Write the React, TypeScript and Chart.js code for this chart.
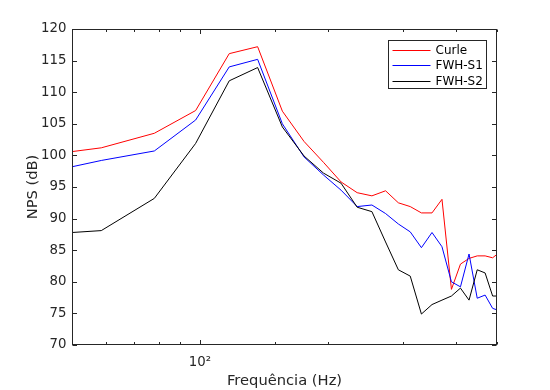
import React, { useEffect, useRef } from 'react';
import { Chart, registerables } from 'chart.js';

Chart.register(...registerables);

// Frequency bins (Hz)
const freqs = [50, 58.6, 78.1, 97.7, 117.2, 136.7, 156.3, 175.8, 195.3, 214.8, 234.4, 253.9, 273.4, 293.0, 312.5, 332.0, 351.6, 371.1, 390.6, 410.2, 429.7, 449.2, 468.8, 488.3, 507.8];

// NPS (dB)
const curle = [100.6, 101.2, 103.5, 107.1, 116.1, 117.2, 107.0, 102.2, 98.9, 95.8, 94.1, 93.6, 94.4, 92.5, 91.9, 90.9, 90.9, 93.05, 78.8, 82.8, 83.7, 84.1, 84.1, 83.8, 84.7];
const fwhS1 = [98.2, 99.2, 100.7, 105.6, 114.0, 115.2, 105.0, 99.75, 96.9, 94.5, 91.9, 92.15, 90.8, 89.15, 87.9, 85.4, 87.8, 85.55, 80.0, 79.2, 84.4, 77.4, 77.9, 75.8, 75.4];
const fwhS2 = [87.8, 88.1, 93.2, 101.9, 111.8, 113.9, 104.5, 99.9, 97.2, 95.6, 91.8, 91.1, 86.3, 81.9, 80.9, 74.9, 76.4, 77.1, 77.75, 79.0, 77.1, 81.9, 81.4, 77.75, 77.75];

const seriesLabels = ['Curle', 'FWH-S1', 'FWH-S2'];
const seriesColors = ['#ff0000', '#0000ff', '#000000'];

const xMin = 50;
const xMax = 500;
const yMin = 70;
const yMax = 120;
const yStep = 5;

const xTitle = 'Frequência (Hz)';
const yTitle = 'NPS (dB)';

const AXIS = '#262626';
const FONT = "'DejaVu Sans', sans-serif";

const framePlugin = {
  id: 'matlabFrame',
  afterDatasetsDraw(chart: any) {
    const { ctx, chartArea: a, scales } = chart;
    const L = Math.round(a.left) + 0.5;
    const R = Math.round(a.right) - 0.5;
    const T = Math.round(a.top) + 0.5;
    const B = Math.round(a.bottom) - 0.5;
    ctx.save();
    ctx.strokeStyle = AXIS;
    ctx.lineWidth = 1;
    ctx.beginPath();
    // y ticks (inward, both sides)
    for (const t of scales.y.ticks) {
      const y = Math.round(scales.y.getPixelForValue(t.value)) + 0.5;
      ctx.moveTo(L, y); ctx.lineTo(L + 4.5, y);
      ctx.moveTo(R, y); ctx.lineTo(R - 4.5, y);
    }
    // x ticks (inward, top and bottom)
    for (const t of scales.x.ticks) {
      const lg = Math.log10(t.value);
      const major = Math.abs(lg - Math.round(lg)) < 1e-9;
      const len = major ? 4.5 : 2.5;
      const x = Math.round(scales.x.getPixelForValue(t.value)) + 0.5;
      ctx.moveTo(x, B); ctx.lineTo(x, B - len);
      ctx.moveTo(x, T); ctx.lineTo(x, T + len);
    }
    ctx.stroke();
    ctx.strokeRect(L, T, R - L, B - T);

    // legend box (top-right inside axes)
    const ds = chart.data.datasets;
    const boxR = Math.round(a.right) - 10.5;
    const boxT = Math.round(a.top) + 11.5;
    const boxW = 98;
    const rowH = 15.6;
    const boxH = 48;
    const boxL = boxR - boxW;
    ctx.fillStyle = '#ffffff';
    ctx.fillRect(boxL, boxT, boxW, boxH);
    ctx.strokeRect(boxL, boxT, boxW, boxH);
    ctx.font = `12px ${FONT}`;
    ctx.textBaseline = 'middle';
    ctx.textAlign = 'left';
    ds.forEach((d: any, i: number) => {
      const y = Math.round(boxT + 9 + i * rowH) + 0.5;
      ctx.strokeStyle = d.borderColor;
      ctx.beginPath();
      ctx.moveTo(boxL + 4, y);
      ctx.lineTo(boxL + 42, y);
      ctx.stroke();
      ctx.fillStyle = '#000000';
      ctx.fillText(d.label, boxL + 47, y + 0.5);
    });
    ctx.restore();
  },
};

export default function App() {
  const ref = useRef<HTMLCanvasElement | null>(null);

  useEffect(() => {
    if (!ref.current) return;
    const series = [curle, fwhS1, fwhS2];
    const chart = new Chart(ref.current, {
      type: 'line',
      data: {
        datasets: series.map((vals, i) => ({
          label: seriesLabels[i],
          data: freqs.map((f, k) => ({ x: f, y: vals[k] })),
          borderColor: seriesColors[i],
          backgroundColor: seriesColors[i],
          borderWidth: 1,
          pointRadius: 0,
          tension: 0,
          fill: false,
          order: series.length - 1 - i,
        })),
      },
      options: {
        responsive: false,
        animation: false,
        parsing: true,
        layout: { padding: { top: 29, right: 53, left: 0, bottom: 0 } },
        plugins: {
          legend: { display: false },
          tooltip: { enabled: false },
          title: { display: false },
        },
        scales: {
          x: {
            type: 'logarithmic',
            min: xMin,
            max: xMax,
            grid: { display: false, drawTicks: false },
            border: { display: false },
            afterFit: (s: any) => { s.height = 45; },
            ticks: {
              autoSkip: false,
              maxRotation: 0,
              padding: 10,
              color: AXIS,
              font: { family: FONT, size: 13.3 },
              callback: (v: any) => (Number(v) === 100 ? '10²' : ''),
            },
            title: {
              display: true,
              text: xTitle,
              color: AXIS,
              font: { family: FONT, size: 14.7 },
              padding: { top: 0, bottom: 0 },
            },
          },
          y: {
            type: 'linear',
            min: yMin,
            max: yMax,
            grid: { display: false, drawTicks: false },
            border: { display: false },
            afterFit: (s: any) => { s.width = 72; },
            ticks: {
              stepSize: yStep,
              padding: 5.5,
              color: AXIS,
              font: { family: FONT, size: 13.3 },
            },
            title: {
              display: true,
              text: yTitle,
              color: AXIS,
              font: { family: FONT, size: 14.7 },
              padding: { top: 24, bottom: 0 },
            },
          },
        },
      },
      plugins: [framePlugin],
    } as any);
    return () => chart.destroy();
  }, []);

  return (
    <div style={{ position: 'fixed', left: 0, top: 0, width: 550, height: 390, background: '#ffffff' }}>
      <canvas ref={ref} width={550} height={390} style={{ display: 'block' }} />
    </div>
  );
}
